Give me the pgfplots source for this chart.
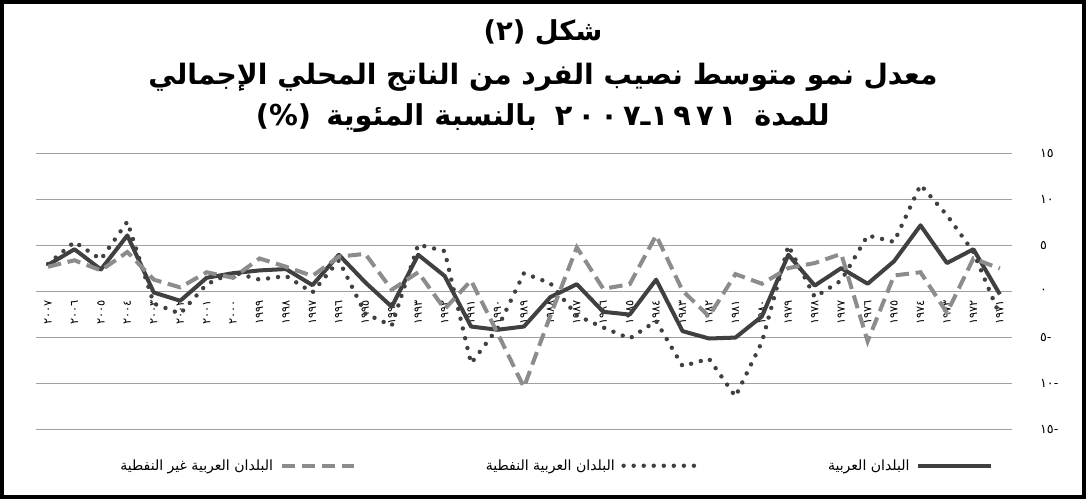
\documentclass[border=0pt]{standalone}
\usepackage{fontspec}
\usepackage{pgfplots}
\usepackage{pgfplotstable}
\pgfplotsset{compat=1.18}
\TeXXeTstate=1
\setmainfont{DejaVu Sans}
\newfontfamily\arabicfont[Script=Arabic,BoldFont={DejaVu Sans Bold}]{DejaVu Sans}
\newfontfamily\digitfont[LetterSpace=18,BoldFont={DejaVu Sans Bold}]{DejaVu Sans}
\definecolor{ser}{HTML}{404040}
\definecolor{dsh}{HTML}{8C8C8C}
\definecolor{grd}{HTML}{A0A0A0}
\newcommand\negnum[1]{\hbox{#1}\hbox{-}}
\pgfplotstableread{
idx year arab oil nonoil
0 2007 2.9 3.0 2.7
1 2006 4.6 5.4 3.4
2 2005 2.4 3.5 2.3
3 2004 6.1 7.6 4.3
4 2003 -0.1 -1.3 1.3
5 2002 -1.0 -2.4 0.45
6 2001 1.5 0.8 2.1
7 2000 2.0 2.1 1.5
8 1999 2.3 1.3 3.6
9 1998 2.45 1.7 2.7
10 1997 0.7 -0.1 1.7
11 1996 4.0 3.4 3.8
12 1995 1.0 -2.4 4.1
13 1994 -1.65 -3.7 0.2
14 1993 4.0 5.1 2.1
15 1992 1.7 4.4 -1.9
16 1991 -3.8 -7.8 1.2
17 1990 -4.15 -4.0 -4.5
18 1989 -3.8 2.0 -10.4
19 1988 -0.6 0.9 -2.6
20 1987 0.8 -2.6 4.8
21 1986 -2.2 -3.9 0.3
22 1985 -2.5 -5.1 0.8
23 1984 1.3 -3.2 6.1
24 1983 -4.3 -8.1 0.1
25 1982 -5.1 -7.3 -2.7
26 1981 -5.0 -11.4 1.9
27 1980 -2.7 -5.5 0.85
28 1979 4.0 5.0 2.55
29 1978 0.65 -0.6 3.1
30 1977 2.55 1.2 4.1
31 1976 0.85 6.1 -5.4
32 1975 3.3 5.4 1.75
33 1974 7.2 11.6 2.1
34 1973 3.1 8.3 -2.3
35 1972 4.6 4.3 3.6
36 1971 -0.3 -2.6 2.5
}\datatable
\begin{document}
\begin{tikzpicture}
\begin{axis}[
  scale only axis, width=729pt, height=206.25pt,
  xmin=-0.45, xmax=36.45, ymin=-15, ymax=15,
  ytick={-15,-10,...,15},
  yticklabels={\negnum{١٥},\negnum{١٠},\negnum{٥},٠,٥,١٠,١٥},
  xtick={0,...,36},
  xticklabels={٢٠٠٧,٢٠٠٦,٢٠٠٥,٢٠٠٤,٢٠٠٣,٢٠٠٢,٢٠٠١,٢٠٠٠,١٩٩٩,١٩٩٨,١٩٩٧,١٩٩٦,١٩٩٥,١٩٩٤,١٩٩٣,١٩٩٢,١٩٩١,١٩٩٠,١٩٨٩,١٩٨٨,١٩٨٧,١٩٨٦,١٩٨٥,١٩٨٤,١٩٨٣,١٩٨٢,١٩٨١,١٩٨٠,١٩٧٩,١٩٧٨,١٩٧٧,١٩٧٦,١٩٧٥,١٩٧٤,١٩٧٣,١٩٧٢,١٩٧١},
  axis x line*=bottom, axis y line*=right,
  axis line style={draw=none},
  major tick length=0pt,
  ymajorgrids, grid style={grd, line width=0.8pt},
  xticklabel style={rotate=90, anchor=east, inner sep=0pt, font=\arabicfont\fontsize{8.5}{9}\selectfont},
  xticklabel shift=-97pt,
  yticklabel style={anchor=west, inner sep=0pt, font=\arabicfont\fontsize{9.5}{10}\selectfont},
  yticklabel shift=21pt,
  clip=false,
  legend columns=3,
  reverse legend,
  legend plot pos=right,
  legend style={at={(rel axis cs:0.532,-0.131)}, anchor=center, draw=none, fill=none,
    font=\arabicfont\fontsize{10.5}{11}\selectfont,
    cells={anchor=east},
    /tikz/every odd column/.append style={column sep=3pt},
    /tikz/every even column/.append style={column sep=95pt}},
  legend image code/.code={\draw[#1] (0cm,0cm) -- (1.9cm,0cm);},
]
\addplot[ser, line width=3pt, line join=round] table[x=idx, y=arab] {\datatable};
\addlegendentry{\beginR البلدان العربية\endR}
\addplot[ser, line width=3.3pt, line cap=round, dash pattern=on 0pt off 7.5pt] table[x=idx, y=oil] {\datatable};
\addlegendentry{\beginR البلدان العربية النفطية\endR}
\addplot[dsh, line width=3pt, dash pattern=on 10pt off 5pt] table[x=idx, y=nonoil] {\datatable};
\addlegendentry{\beginR البلدان العربية غير النفطية\endR}
\node[font=\arabicfont\bfseries\fontsize{20.5}{24}\selectfont] at (rel axis cs:0.5195,1.4400) {\beginR شكل \beginL(٢)\endL\endR};
\node[font=\arabicfont\bfseries\fontsize{21}{24}\selectfont] at (rel axis cs:0.5195,1.2780) {\beginR معدل نمو متوسط نصيب الفرد من الناتج المحلي الإجمالي\endR};
\node[font=\arabicfont\bfseries\fontsize{21.5}{24}\selectfont] at (rel axis cs:0.5195,1.1270) {\beginR للمدة\hspace{6pt} \beginL\hbox{\digitfont\bfseries ٢٠٠٧}\hbox{ـ}\hbox{\digitfont\bfseries ١٩٧١}\endL{}\hspace{6pt} بالنسبة المئوية\hspace{4pt} \beginL(\%)\endL\endR};
\draw[line width=3pt] (rel axis cs:-0.03498,-0.24364) rectangle (rel axis cs:1.07407,1.54909);
\end{axis}
\end{tikzpicture}
\end{document}
